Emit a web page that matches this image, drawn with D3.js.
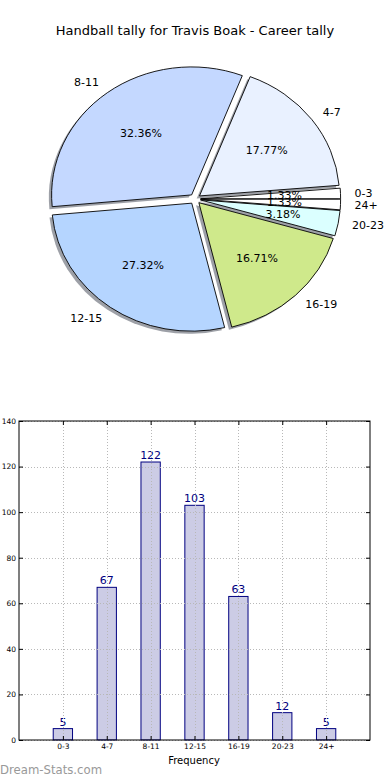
<!DOCTYPE html>
<html>
<head>
<meta charset="utf-8">
<script src="https://cdn.jsdelivr.net/npm/d3@7"></script>
<style>
  body { margin: 0; background: #fff; }
  svg { display: block; font-family: "DejaVu Sans", sans-serif; }
</style>
</head>
<body>
<svg id="chart" width="390" height="780"></svg>
<script>
// **** data ****
var categories = ['0-3', '4-7', '8-11', '12-15', '16-19', '20-23', '24+'];
var counts = [5, 67, 122, 103, 63, 12, 5];
var sliceColors = ['#ffffff', '#e9f1ff', '#c4d8ff', '#b5d5ff', '#cfe98b', '#dbffff', '#ffffff'];
var yTicks = [0, 20, 40, 60, 80, 100, 120, 140];

var svg = d3.select('#chart');

svg.append('text')
    .attr('x', 195).attr('y', 35)
    .attr('text-anchor', 'middle')
    .style('font-size', '13px')
    .text('Handball tally for Travis Boak - Career tally');

// **** pie (elliptical, like a matplotlib pie without equal axes) ****
var cx = 195, cy = 199, rx = 140, ry = 128, explode = 0.04;
var total = d3.sum(counts);

var pie = d3.pie().sort(null)
    .startAngle(Math.PI / 2)
    .endAngle(Math.PI / 2 - 2 * Math.PI);
var arcs = pie(counts);
var unitArc = d3.arc().innerRadius(0).outerRadius(1);

arcs.forEach(function (a) {
    var m = (a.startAngle + a.endAngle) / 2;
    a.ox = cx + explode * rx * Math.sin(m);
    a.oy = cy - explode * ry * Math.cos(m);
    a.mid = m;
});

var pieG = svg.append('g');

// shadows first
pieG.selectAll('path.shadow')
    .data(arcs).enter()
    .append('path')
    .attr('class', 'shadow')
    .attr('d', unitArc)
    .attr('transform', function (d) {
        return 'translate(' + [d.ox - 0.02 * rx, d.oy + 0.02 * ry] + ') scale(' + [rx, ry] + ')';
    })
    .style('fill', '#3c4250')
    .style('opacity', 0.5);

pieG.selectAll('path.wedge')
    .data(arcs).enter()
    .append('path')
    .attr('class', 'wedge')
    .attr('d', unitArc)
    .attr('transform', function (d) {
        return 'translate(' + [d.ox, d.oy] + ') scale(' + [rx, ry] + ')';
    })
    .attr('vector-effect', 'non-scaling-stroke')
    .style('fill', function (d, i) { return sliceColors[i]; })
    .style('stroke', '#000')
    .style('stroke-width', 0.9);

// outer labels
pieG.selectAll('text.cat')
    .data(arcs).enter()
    .append('text')
    .attr('class', 'cat')
    .attr('x', function (d) { return d.ox + 1.1 * rx * Math.sin(d.mid); })
    .attr('y', function (d) { return d.oy - 1.1 * ry * Math.cos(d.mid); })
    .attr('dy', '0.35em')
    .attr('text-anchor', function (d) { return Math.sin(d.mid) < 0 ? 'end' : 'start'; })
    .style('font-size', '11px')
    .text(function (d, i) { return categories[i]; });

// percentages
pieG.selectAll('text.pct')
    .data(arcs).enter()
    .append('text')
    .attr('class', 'pct')
    .attr('x', function (d) { return d.ox + 0.6 * rx * Math.sin(d.mid); })
    .attr('y', function (d) { return d.oy - 0.6 * ry * Math.cos(d.mid); })
    .attr('dy', '0.35em')
    .attr('text-anchor', 'middle')
    .style('font-size', '11px')
    .text(function (d) { return (d.value / total * 100).toFixed(2) + '%'; });

// **** bar chart ****
var plotLeft = 19, plotRight = 370, plotTop = 421, plotBottom = 740;
var xScale = d3.scaleLinear().domain([-1, 7]).range([plotLeft, plotRight]);
var yScale = d3.scaleLinear().domain([0, 140]).range([plotBottom, plotTop]);
var barW = xScale(0.44) - xScale(0);

var bars = svg.append('g');
bars.selectAll('rect')
    .data(counts).enter()
    .append('rect')
    .attr('x', function (d, i) { return xScale(i) - barW / 2; })
    .attr('y', function (d) { return yScale(d); })
    .attr('width', barW)
    .attr('height', function (d) { return plotBottom - yScale(d); })
    .style('fill', '#ccccE5')
    .style('stroke', '#000080')
    .style('stroke-width', 1);

// grid on top of bars
var grid = svg.append('g')
    .style('stroke', '#b8b8b8')
    .style('stroke-dasharray', '1,2')
    .style('stroke-width', 1);
grid.selectAll('line.h')
    .data(yTicks).enter()
    .append('line')
    .attr('x1', plotLeft).attr('x2', plotRight)
    .attr('y1', function (d) { return Math.round(yScale(d)) + 0.5; })
    .attr('y2', function (d) { return Math.round(yScale(d)) + 0.5; });
grid.selectAll('line.v')
    .data(categories).enter()
    .append('line')
    .attr('y1', plotTop).attr('y2', plotBottom)
    .attr('x1', function (d, i) { return Math.round(xScale(i)) + 0.5; })
    .attr('x2', function (d, i) { return Math.round(xScale(i)) + 0.5; });

// value labels
bars.selectAll('text')
    .data(counts).enter()
    .append('text')
    .attr('x', function (d, i) { return xScale(i); })
    .attr('y', function (d) { return yScale(d) - 3; })
    .attr('text-anchor', 'middle')
    .style('font-size', '11px')
    .style('fill', '#000080')
    .text(function (d) { return d; });

// axes (inward ticks, tiny labels)
var yAxis = d3.axisLeft(yScale).tickValues(yTicks).tickSizeInner(-4).tickSizeOuter(0).tickPadding(3);
var yAxisR = d3.axisRight(yScale).tickValues(yTicks).tickSizeInner(-4).tickSizeOuter(0).tickFormat('');
var xAxis = d3.axisBottom(xScale).tickValues(d3.range(categories.length))
    .tickFormat(function (d) { return categories[d]; })
    .tickSizeInner(-4).tickSizeOuter(0).tickPadding(4);
var xAxisT = d3.axisTop(xScale).tickValues(d3.range(categories.length)).tickSizeInner(-4).tickSizeOuter(0).tickFormat('');

[[yAxis, 'translate(' + plotLeft + ',0)'], [yAxisR, 'translate(' + plotRight + ',0)'],
 [xAxis, 'translate(0,' + plotBottom + ')'], [xAxisT, 'translate(0,' + plotTop + ')']].forEach(function (a) {
    var g = svg.append('g').attr('transform', a[1]).call(a[0]);
    g.select('.domain').remove();
    g.selectAll('text').style('font-size', '7.5px').style('font-family', '"DejaVu Sans", sans-serif');
});

svg.append('rect')
    .attr('x', plotLeft).attr('y', plotTop)
    .attr('width', plotRight - plotLeft).attr('height', plotBottom - plotTop)
    .style('fill', 'none').style('stroke', '#000').style('stroke-width', 1);

svg.append('text')
    .attr('x', 194).attr('y', 764)
    .attr('text-anchor', 'middle')
    .style('font-size', '10px')
    .text('Frequency');

svg.append('text')
    .attr('x', 0).attr('y', 774)
    .style('font-size', '11.7px')
    .style('fill', '#999')
    .text('Dream-Stats.com');
</script>
</body>
</html>
